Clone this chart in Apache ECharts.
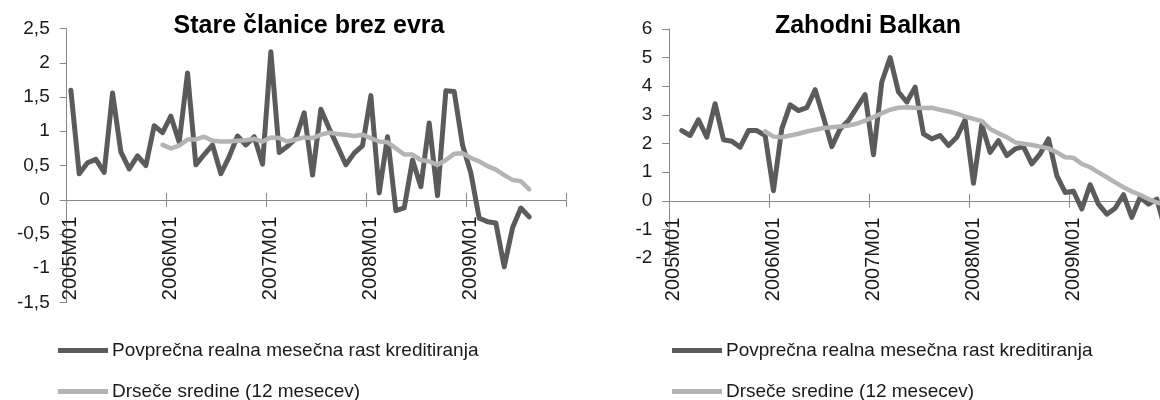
<!DOCTYPE html>
<html>
<head>
<meta charset="utf-8">
<title>Realna mesečna rast kreditiranja</title>
<script src="https://cdn.jsdelivr.net/npm/echarts@6/dist/echarts.min.js"></script>
<style>
  html, body { margin: 0; padding: 0; background: #ffffff; }
  #chart { width: 1160px; height: 400px; }
</style>
</head>
<body>
<div id="chart"></div>
<script>
// Monthly categories 2005M01 .. 2009M12
const years = [2005, 2006, 2007, 2008, 2009];
const monthCodes = ['01','02','03','04','05','06','07','08','09','10','11','12'];
const categories = [];
years.forEach(y => monthCodes.forEach(m => categories.push(y + 'M' + m)));

const rawName = 'Povprečna realna mesečna rast kreditiranja';
const avgName = 'Drseče sredine (12 mesecev)';

const titleLeft = 'Stare članice brez evra';
const titleRight = 'Zahodni Balkan';

// Stare članice brez evra: monthly growth (2005M01 .. 2009M08)
const leftRaw = [
  1.60, 0.38, 0.54, 0.59, 0.40, 1.56, 0.70, 0.45, 0.64, 0.50, 1.08, 0.98,
  1.22, 0.84, 1.85, 0.51, 0.66, 0.80, 0.38, 0.63, 0.93, 0.80, 0.92, 0.52,
  2.16, 0.69, 0.78, 0.90, 1.27, 0.36, 1.32, 1.04, 0.78, 0.51, 0.68, 0.79,
  1.52, 0.10, 0.92, -0.16, -0.12, 0.58, 0.19, 1.12, 0.06, 1.59, 1.58, 0.80,
  0.39, -0.27, -0.32, -0.34, -0.98, -0.41, -0.12, -0.25
];
// 12-month moving average (from 2005M12)
const leftAvg = [
  null, null, null, null, null, null, null, null, null, null, null, 0.80,
  0.75, 0.79, 0.88, 0.88, 0.92, 0.86, 0.85, 0.85, 0.86, 0.87, 0.89, 0.85,
  0.91, 0.90, 0.85, 0.88, 0.91, 0.90, 0.95, 0.98, 0.96, 0.95, 0.93, 0.95,
  0.90, 0.85, 0.84, 0.75, 0.66, 0.66, 0.58, 0.56, 0.51, 0.58, 0.67, 0.68,
  0.61, 0.56, 0.49, 0.44, 0.36, 0.29, 0.27, 0.15
];

// Zahodni Balkan: monthly growth (2005M02 .. 2009M12)
const rightRaw = [
  null, 2.45, 2.28, 2.83, 2.22, 3.39, 2.13, 2.08, 1.87, 2.45, 2.45, 2.28,
  0.35, 2.51, 3.35, 3.15, 3.25, 3.88, 2.92, 1.89, 2.51, 2.80, 3.25, 3.71,
  1.61, 4.15, 5.00, 3.80, 3.45, 3.97, 2.34, 2.16, 2.28, 1.93, 2.22, 2.83,
  0.61, 2.66, 1.69, 2.10, 1.58, 1.81, 1.89, 1.29, 1.64, 2.16, 0.88, 0.29,
  0.33, -0.29, 0.56, -0.12, -0.47, -0.26, 0.21, -0.58, 0.12, -0.12, 0.06, -1.00
];
const rightAvg = [
  null, null, null, null, null, null, null, null, null, null, null, 2.42,
  2.24, 2.22, 2.28, 2.34, 2.42, 2.48, 2.54, 2.57, 2.59, 2.63, 2.69, 2.80,
  2.92, 3.06, 3.18, 3.25, 3.27, 3.25, 3.24, 3.25, 3.18, 3.12, 3.04, 2.94,
  2.86, 2.78, 2.51, 2.36, 2.22, 2.04, 1.99, 1.95, 1.89, 1.83, 1.69, 1.52,
  1.50, 1.29, 1.17, 0.99, 0.82, 0.64, 0.47, 0.32, 0.21, 0.06, -0.06, -0.15
];

// value ranges of the two panels
const leftRange = { min: -1.5, max: 2.5, step: 0.5 };
const rightRange = { min: -2, max: 6, step: 1 };

const FONT = '"Liberation Sans", Arial, sans-serif';
const AXIS_COLOR = '#878787';
const TEXT_COLOR = '#1a1a1a';
const DARK = '#5b5b5b';
const LIGHT = '#b4b4b4';

const chart = echarts.init(document.getElementById('chart'), null, { renderer: 'canvas' });

function decimalComma(v) {
  return String(v).replace('.', ',');
}

// plot areas of the two panels
const leftBox = { left: 66.7, top: 28.5, width: 500, height: 274 };
const rightBox = { left: 669.3, top: 29, width: 500, height: 229 };

function gridOf(box) {
  return Object.assign({ containLabel: false, outerBoundsMode: 'none' }, box);
}

// the part of a panel above the zero level; its bottom edge carries the
// category labels and the downward tick halves
function upperGridOf(box, range) {
  const h = box.height * range.max / (range.max - range.min);
  return { containLabel: false, outerBoundsMode: 'none', left: box.left, top: box.top, width: box.width, height: h };
}

function dataXAxis(gridIndex) {
  return {
    type: 'category',
    gridIndex: gridIndex,
    data: categories,
    boundaryGap: true,
    axisLine: { show: false, onZero: false },
    axisTick: { show: false },
    axisLabel: { show: false },
    splitLine: { show: false }
  };
}

function labelXAxis(gridIndex) {
  return {
    type: 'category',
    gridIndex: gridIndex,
    data: categories,
    boundaryGap: true,
    position: 'bottom',
    axisLine: { show: false, onZero: false },
    axisTick: { show: true, interval: 11, length: 7, lineStyle: { color: AXIS_COLOR } },
    axisLabel: {
      interval: 11, rotate: 90, margin: 17,
      fontFamily: FONT, fontSize: 20, color: TEXT_COLOR
    },
    splitLine: { show: false }
  };
}

function tickXAxis(gridIndex) {
  return {
    type: 'category',
    gridIndex: gridIndex,
    data: categories,
    boundaryGap: true,
    position: 'bottom',
    axisLine: { show: true, onZero: true, lineStyle: { color: AXIS_COLOR, width: 1 } },
    axisTick: { show: true, inside: true, interval: 11, length: 7, lineStyle: { color: AXIS_COLOR } },
    axisLabel: { show: false },
    splitLine: { show: false }
  };
}

function valueYAxis(gridIndex, range, visible) {
  return {
    type: 'value',
    gridIndex: gridIndex,
    min: range.min, max: range.max, interval: range.step,
    axisLine: { show: visible, lineStyle: { color: AXIS_COLOR, width: 1 } },
    axisTick: { show: visible, length: 7, lineStyle: { color: AXIS_COLOR } },
    axisLabel: {
      show: visible,
      margin: 17, fontFamily: FONT, fontSize: 19, color: TEXT_COLOR,
      formatter: decimalComma
    },
    splitLine: { show: false }
  };
}

function hiddenYAxis(gridIndex) {
  return {
    type: 'value', gridIndex: gridIndex, min: 0, max: 1, show: false,
    splitLine: { show: false }
  };
}

function lineSeries(name, data, xi, yi, color, width, z) {
  return {
    type: 'line',
    name: name,
    data: data,
    xAxisIndex: xi,
    yAxisIndex: yi,
    symbol: 'none',
    showSymbol: false,
    connectNulls: false,
    animation: false,
    z: z,
    itemStyle: { color: color },
    lineStyle: { color: color, width: width, join: 'round', cap: 'round' }
  };
}

function legendItem(name, left, top) {
  return {
    data: [name],
    left: left,
    top: top,
    padding: 0,
    icon: 'rect',
    itemWidth: 50,
    itemHeight: 5,
    itemGap: 0,
    selectedMode: false,
    textStyle: { fontFamily: FONT, fontSize: 19, color: TEXT_COLOR, padding: [0, 0, 0, -1] }
  };
}

const option = {
  backgroundColor: '#ffffff',
  animation: false,
  title: [
    {
      text: titleLeft, left: 309, top: 14, textAlign: 'center', padding: 0,
      textStyle: { fontFamily: FONT, fontSize: 25, fontWeight: 'bold', color: '#000000' }
    },
    {
      text: titleRight, left: 868, top: 14, textAlign: 'center', padding: 0,
      textStyle: { fontFamily: FONT, fontSize: 25, fontWeight: 'bold', color: '#000000' }
    }
  ],
  grid: [
    gridOf(leftBox), gridOf(rightBox),
    gridOf(leftBox), gridOf(rightBox),
    upperGridOf(leftBox, leftRange), upperGridOf(rightBox, rightRange)
  ],
  xAxis: [
    dataXAxis(0), dataXAxis(1),
    tickXAxis(2), tickXAxis(3),
    labelXAxis(4), labelXAxis(5)
  ],
  yAxis: [
    valueYAxis(0, leftRange, true),
    valueYAxis(1, rightRange, true),
    valueYAxis(2, leftRange, false),
    valueYAxis(3, rightRange, false),
    hiddenYAxis(4),
    hiddenYAxis(5)
  ],
  legend: [
    legendItem(rawName, 58, 341),
    legendItem(avgName, 58, 382),
    legendItem(rawName, 672, 341),
    legendItem(avgName, 672, 382)
  ],
  series: [
    lineSeries(rawName, leftRaw, 0, 0, DARK, 5, 2),
    lineSeries(avgName, leftAvg, 0, 0, LIGHT, 4.5, 3),
    lineSeries(rawName, rightRaw, 1, 1, DARK, 5, 2),
    lineSeries(avgName, rightAvg, 1, 1, LIGHT, 4.5, 3)
  ]
};

chart.setOption(option);
</script>
</body>
</html>
